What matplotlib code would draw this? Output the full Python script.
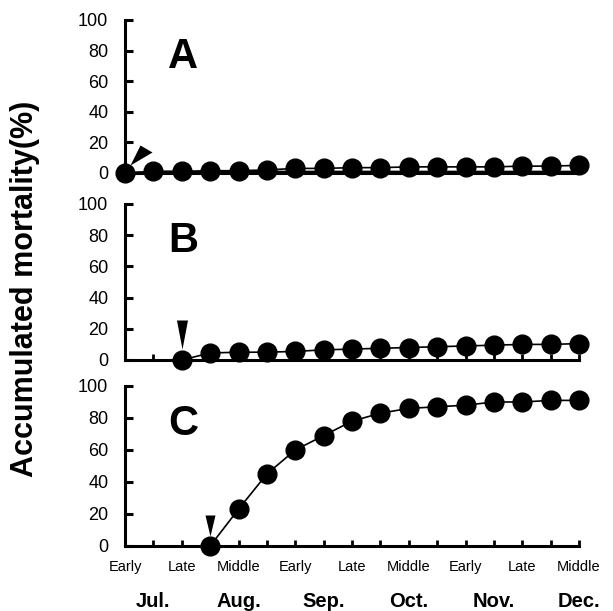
import matplotlib
matplotlib.use("Agg")
import matplotlib.pyplot as plt

plt.rcParams["font.family"] = ["Liberation Sans", "DejaVu Sans"]

# ten-day periods, Early Jul. (0) ... Middle Dec. (16)
period_labels = ["Early", "", "Late", "", "Middle", "", "Early", "", "Late",
                 "", "Middle", "", "Early", "", "Late", "", "Middle"]
months = ["Jul.", "Aug.", "Sep.", "Oct.", "Nov.", "Dec."]
month_pos = [1, 4, 7, 10, 13, 16]

# panel A
a_x = list(range(0, 17))
a_y = [0, 1, 1, 1.5, 1.5, 2, 3, 3, 3.5, 3.5, 4, 4, 4, 4, 4.5, 4.5, 5]
a_low = [0, 1, 1, 1, 1, 1, 1, 1, 1, 1, 1, 1, 1, 1, 1, 1, 1]
# panel B
b_x = list(range(2, 17))
b_y = [0, 4.5, 5, 5, 5.5, 6.5, 7, 7.5, 8, 8.5, 9, 9.5, 10, 10, 10.5]
# panel C
c_x = list(range(3, 17))
c_y = [0, 23, 45, 60, 69, 78, 83, 86, 87, 88, 90, 90, 91, 91]

# arrowhead shapes, pixel offsets from the point (y up)
arrow_diag = [(5, 8), (15, 28), (27, 21)]
arrow_down_b = [(0, 11), (-5.5, 40), (5.5, 40)]
arrow_down_c = [(0, 10), (-5, 31), (5, 31)]


def arrow_marker(verts):
    m = max(max(abs(vx), abs(vy)) for vx, vy in verts)
    return verts + [verts[0]], 2 * m * 0.72


fig = plt.figure(figsize=(6.13, 6.11), dpi=100)
W, H = 613, 611
left, width = 125 / W, 454 / W
boxes = [(20, 173), (204, 360), (386, 546)]
axes = [fig.add_axes([left, 1 - b / H, width, (b - t) / H]) for t, b in boxes]

series = [(a_x, a_y, arrow_diag), (b_x, b_y, arrow_down_b), (c_x, c_y, arrow_down_c)]
letters = ["A", "B", "C"]

for i, (ax, (xs, ys, arr), letter) in enumerate(zip(axes, series, letters)):
    ax.set_xlim(0, 16)
    ax.set_ylim(0, 100)
    for s in ["top", "right"]:
        ax.spines[s].set_visible(False)
    for s in ["left", "bottom"]:
        ax.spines[s].set_linewidth(2.2)
    ax.set_yticks(range(0, 101, 20))
    ax.set_xticks(range(0, 17))
    ax.tick_params(axis="y", direction="in", length=6, width=2.2, pad=12, labelsize=13)
    ax.tick_params(axis="x", direction="in", length=4, width=2, pad=10, labelsize=10.5)
    if i == 2:
        ax.set_xticklabels(period_labels)
    else:
        ax.set_xticklabels([])
    if i == 0:
        ax.plot(a_x, a_low, color="black", lw=1.2, clip_on=False, zorder=3)
    ax.plot(xs, ys, color="black", lw=1.2, marker="o", ms=13.5,
            clip_on=False, zorder=4)
    verts, ms = arrow_marker(arr)
    ax.plot([xs[0]], [ys[0]], marker=verts, ms=ms, color="black",
            mew=0, linestyle="none", clip_on=False, zorder=5)
    ax.text(2.05, 76, letter, fontsize=30, fontweight="bold", ha="center",
            va="center")

ax_c = axes[2]
for m, p in zip(months, month_pos):
    ax_c.text(p, -0.38, m, transform=ax_c.get_xaxis_transform(), ha="center",
              va="baseline", fontsize=14.5, fontweight="bold")

fig.text(0.04, 1 - 289 / H, "Accumulated mortality(%)", rotation=90,
         ha="center", va="center", fontsize=22, fontweight="bold")

fig.savefig("out.png", dpi=100)
